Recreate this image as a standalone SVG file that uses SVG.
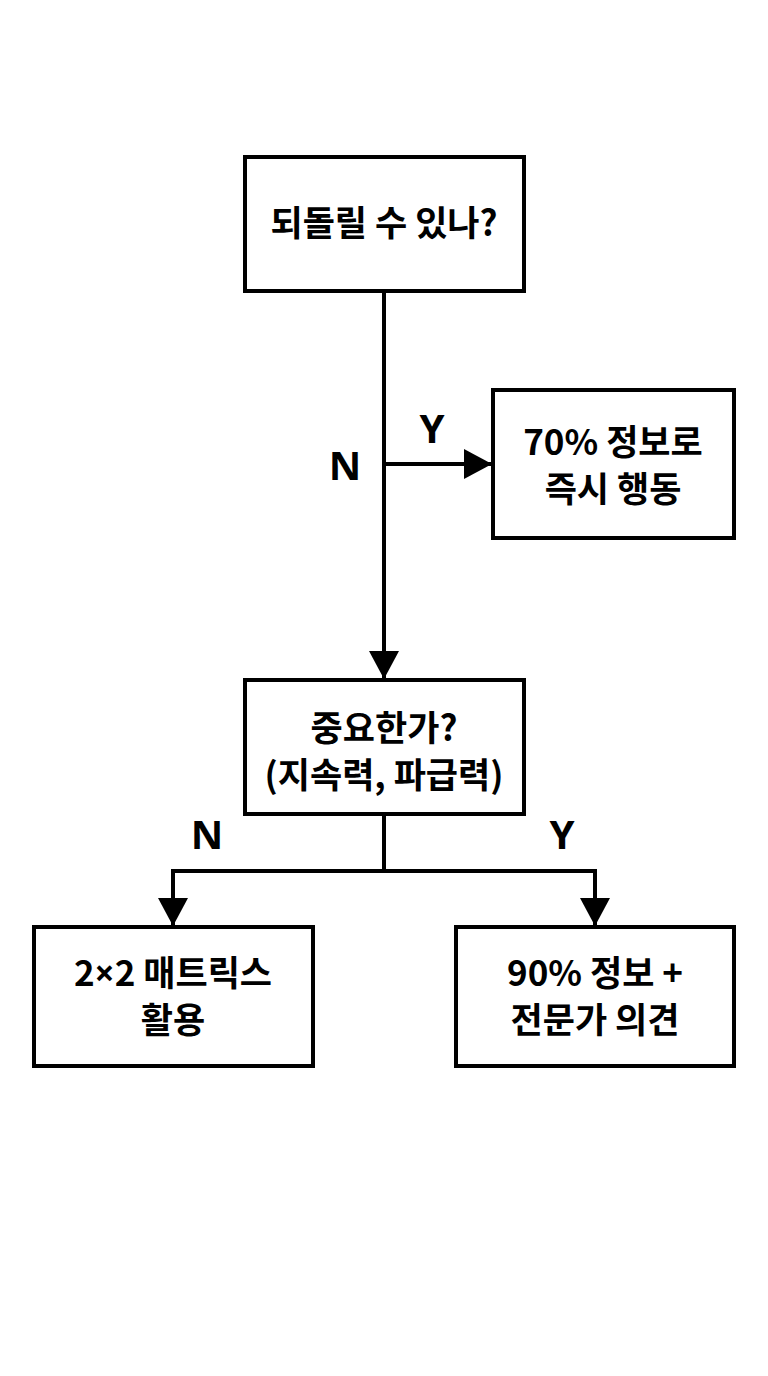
<svg xmlns="http://www.w3.org/2000/svg" width="768" height="1376" viewBox="0 0 768 1376">
<defs>
<style>
.box{fill:#fff;stroke:#000;stroke-width:4}
.t{font-family:"Noto Sans CJK KR","Noto Sans",sans-serif;font-weight:bold;font-size:35px;fill:#000;text-anchor:middle}
.lat{font-family:"Noto Sans",sans-serif}
.lbl{font-family:"Noto Sans","Noto Sans CJK KR",sans-serif;font-weight:bold;font-size:40px;fill:#000;text-anchor:middle}
.ln{fill:none;stroke:#000;stroke-width:4}
</style>
<marker id="ah" viewBox="0 0 28 30" refX="28" refY="15" markerWidth="28" markerHeight="30" markerUnits="userSpaceOnUse" orient="auto">
<path d="M0,0 L28,15 L0,30 Z" fill="#000"/>
</marker>
</defs>
<rect width="768" height="1376" fill="#fff"/>
<g id="connectors">
<path class="ln" d="M384,291 V679" marker-end="url(#ah)"/>
<path class="ln" d="M384,464 H492" marker-end="url(#ah)"/>
<path class="ln" d="M384,815 V871"/>
<path class="ln" d="M173,871 H595"/>
<path class="ln" d="M173,869 V926" marker-end="url(#ah)"/>
<path class="ln" d="M595,869 V926" marker-end="url(#ah)"/>
<text class="lbl" x="432" y="443">Y</text>
<text class="lbl" x="345" y="480">N</text>
<text class="lbl" x="207" y="849">N</text>
<text class="lbl" x="562" y="849">Y</text>
</g>
<g id="n1">
<rect class="box" x="245" y="157" width="279" height="134"/>
<text class="t" x="384" y="236">되돌릴 수 있나?</text>
</g>
<g id="n2">
<rect class="box" x="493" y="390" width="241" height="148"/>
<text class="t" x="613" y="455">70% 정보로</text>
<text class="t" x="613" y="502">즉시 행동</text>
</g>
<g id="n3">
<rect class="box" x="245" y="680" width="279" height="134"/>
<text class="t" x="384" y="741">중요한가?</text>
<text class="t" x="384" y="788">(지속력, 파급력)</text>
</g>
<g id="n4">
<rect class="box" x="34" y="927" width="279" height="139"/>
<text class="t" x="173" y="986">2<tspan class="lat">×</tspan>2 매트릭스</text>
<text class="t" x="173" y="1033">활용</text>
</g>
<g id="n5">
<rect class="box" x="456" y="927" width="278" height="139"/>
<text class="t" x="595" y="986">90% 정보 +</text>
<text class="t" x="595" y="1033">전문가 의견</text>
</g>
</svg>
